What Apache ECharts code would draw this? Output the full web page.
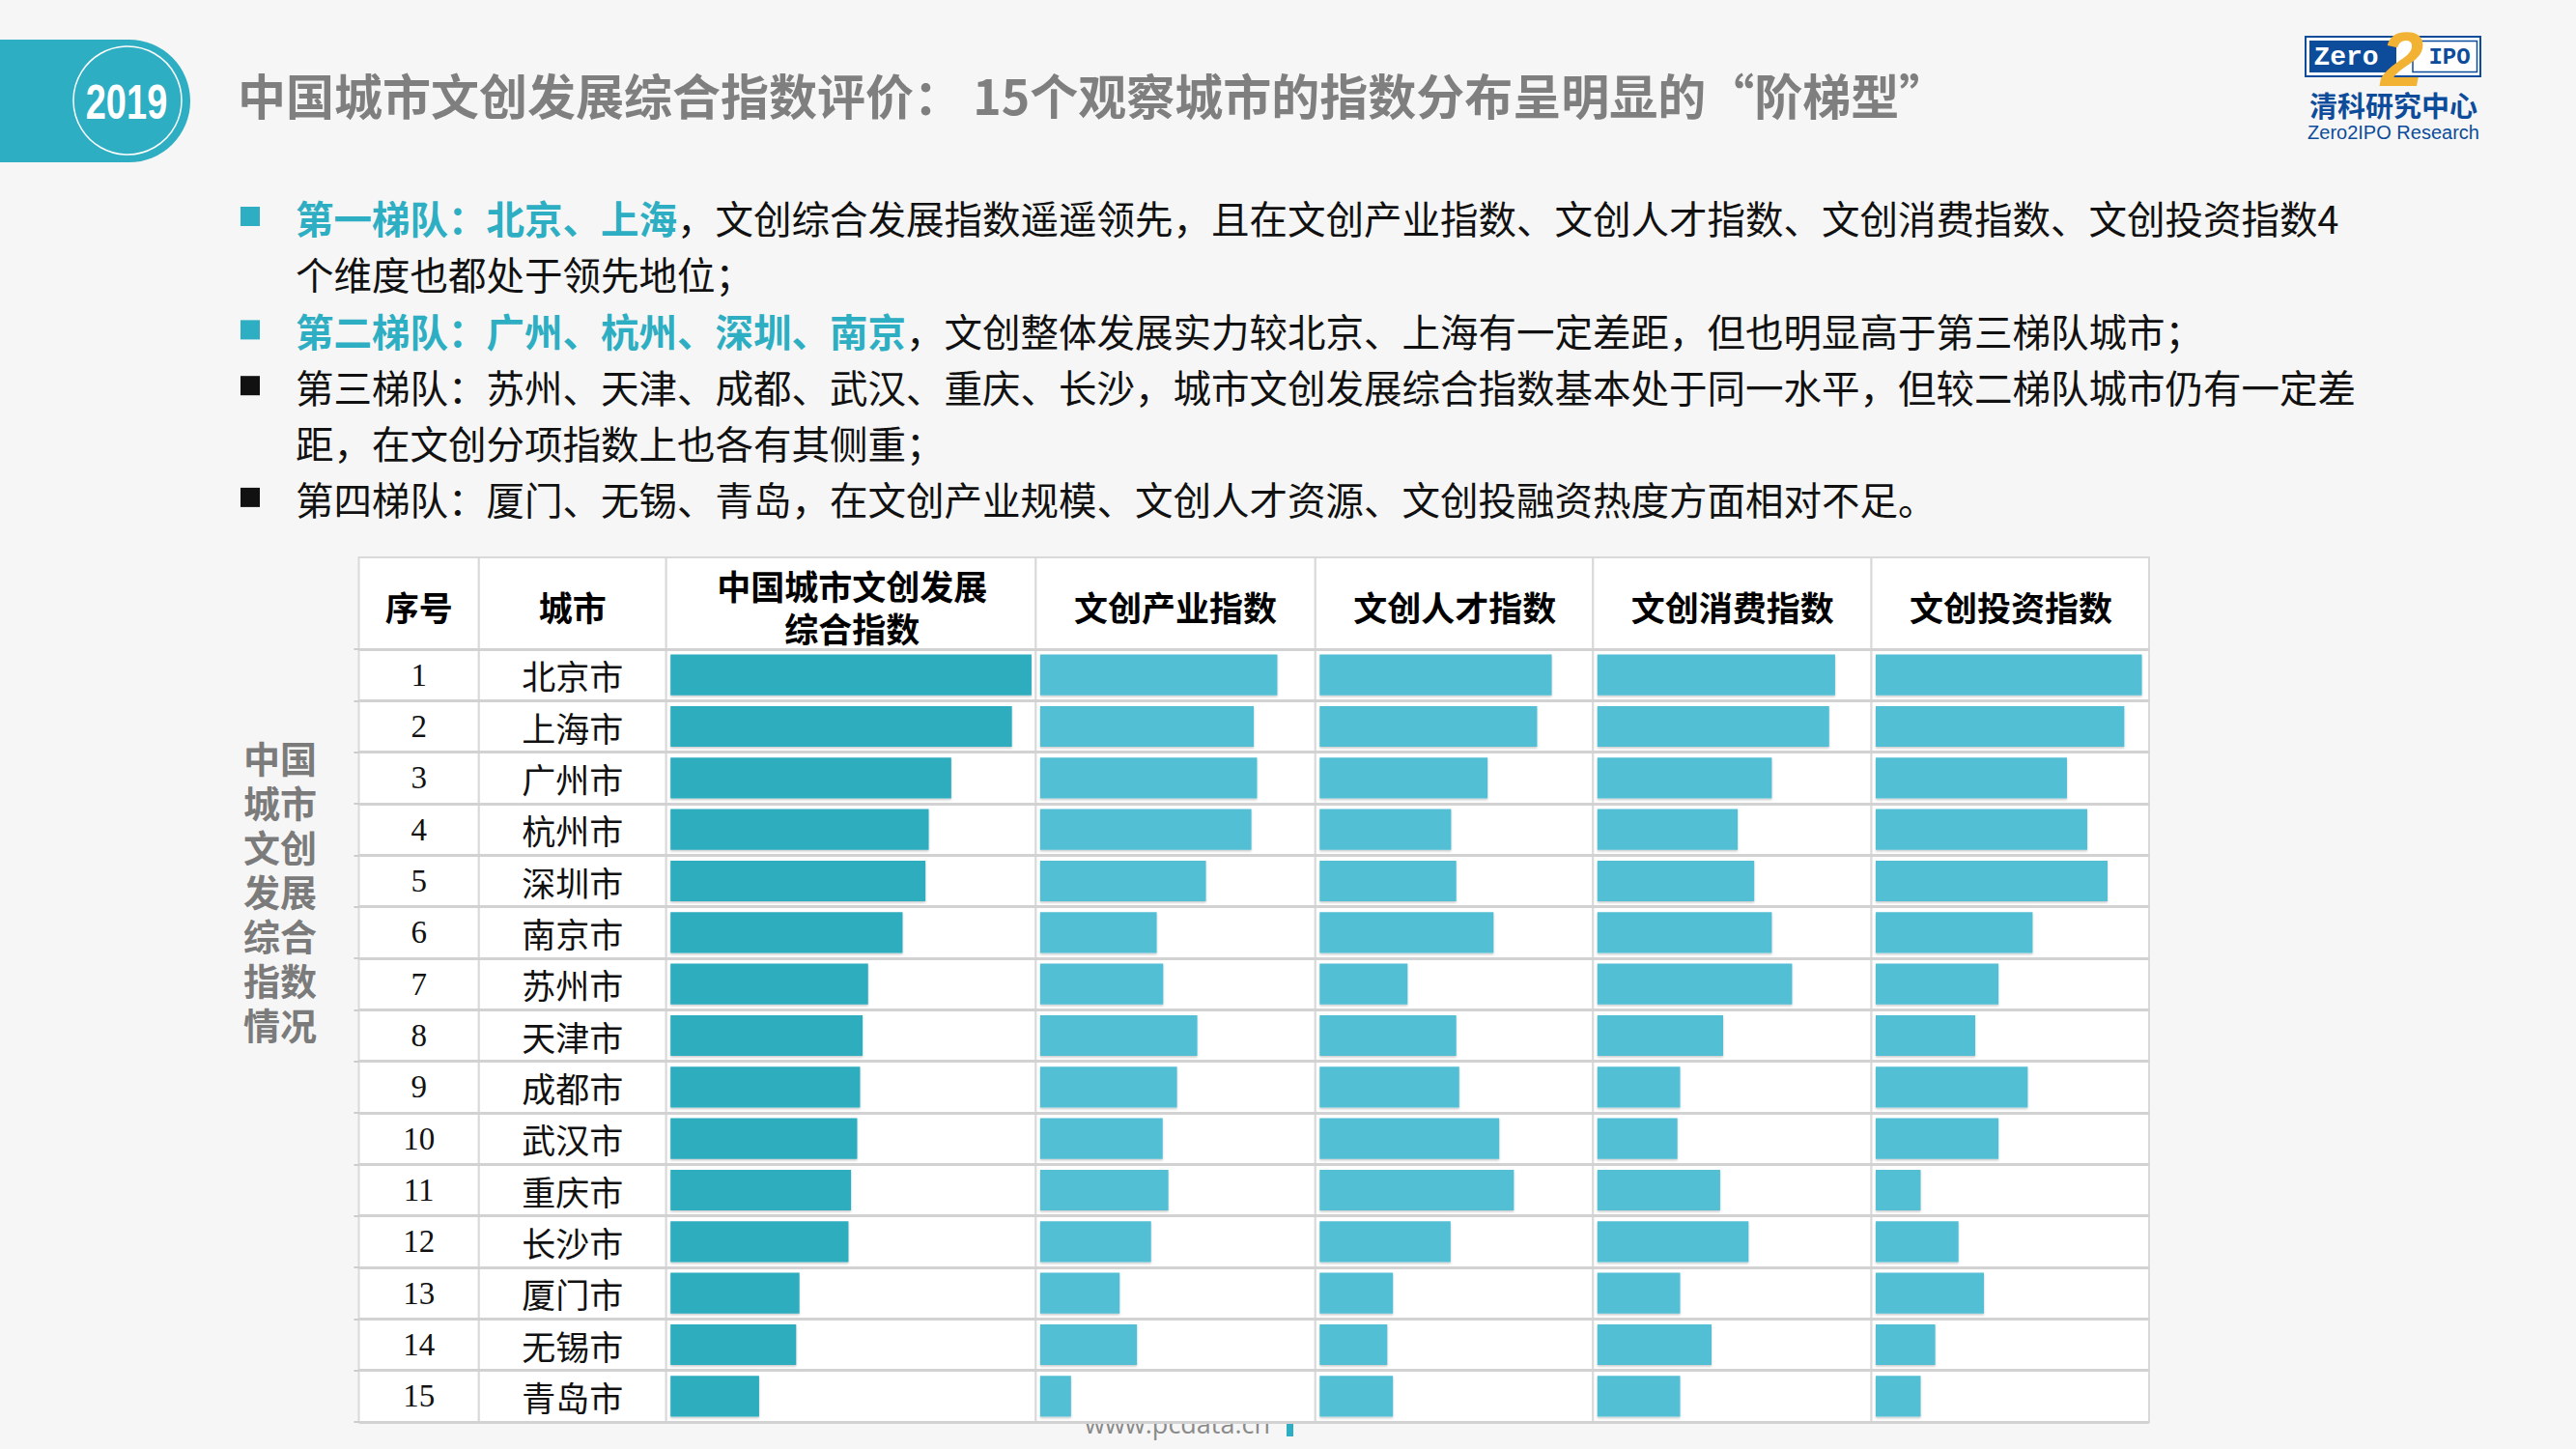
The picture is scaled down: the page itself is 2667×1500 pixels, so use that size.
<!DOCTYPE html>
<html>
<head>
<meta charset="utf-8">
<script src="https://cdn.jsdelivr.net/npm/echarts@6/dist/echarts.min.js"></script>
<style>
html,body{margin:0;padding:0;background:#f6f6f6;}
#chart{width:2667px;height:1500px;}
</style>
</head>
<body>
<div id="chart"></div>
<script>
// ---------------- DATA ----------------
const ranks = ['1','2','3','4','5','6','7','8','9','10','11','12','13','14','15'];
const cities = ['北京市','上海市','广州市','杭州市','深圳市','南京市','苏州市','天津市','成都市','武汉市','重庆市','长沙市','厦门市','无锡市','青岛市'];
const headerLabels = ['序号','城市','中国城市文创发展\n综合指数','文创产业指数','文创人才指数','文创消费指数','文创投资指数'];
// Estimated index values (relative scale 0-100)
const compositeIndex   = [99.4, 94.0, 77.3, 71.1, 70.2, 63.9, 54.4, 52.9, 52.2, 51.4, 49.7, 49.0, 35.5, 34.6, 24.4];
const industryIndex    = [87.7, 79.0, 80.2, 78.1, 61.3, 43.1, 45.5, 58.1, 50.6, 45.3, 47.4, 41.0, 29.4, 35.8, 11.4];
const talentIndex      = [85.8, 80.4, 62.1, 48.6, 50.5, 64.3, 32.5, 50.5, 51.6, 66.4, 71.8, 48.4, 27.1, 25.0, 27.1];
const consumptionIndex = [87.9, 85.7, 64.5, 51.9, 58.0, 64.5, 72.0, 46.5, 30.6, 29.6, 45.4, 55.9, 30.6, 42.2, 30.6];
const investmentIndex  = [98.4, 91.9, 70.7, 78.2, 85.7, 58.0, 45.4, 36.8, 56.2, 45.4, 16.6, 30.6, 40.0, 22.0, 16.6];

const titleText = '中国城市文创发展综合指数评价： 15个观察城市的指数分布呈明显的“阶梯型”';
const sideLabelLines = ['中国', '城市', '文创', '发展', '综合', '指数', '情况'];
const bulletLines = [
  { bullet: 'teal', parts: [['h', '第一梯队：北京、上海'], ['t', '，文创综合发展指数遥遥领先，且在文创产业指数、文创人才指数、文创消费指数、文创投资指数4']] },
  { bullet: null,   parts: [['t', '个维度也都处于领先地位；']] },
  { bullet: 'teal', parts: [['h', '第二梯队：广州、杭州、深圳、南京'], ['t', '，文创整体发展实力较北京、上海有一定差距，但也明显高于第三梯队城市；']] },
  { bullet: 'dark', parts: [['t', '第三梯队：苏州、天津、成都、武汉、重庆、长沙，城市文创发展综合指数基本处于同一水平，但较二梯队城市仍有一定差']] },
  { bullet: null,   parts: [['t', '距，在文创分项指数上也各有其侧重；']] },
  { bullet: 'dark', parts: [['t', '第四梯队：厦门、无锡、青岛，在文创产业规模、文创人才资源、文创投融资热度方面相对不足。']] }
];

// ---------------- LAYOUT / STYLE ----------------
const CJK = '"Noto Sans CJK SC", "Noto Sans", sans-serif';
const TEAL = '#2eaec2';
const COL = [371.5, 495.8, 689.7, 1072.4, 1361.8, 1649.3, 1937.5, 2225];
const TABLE_TOP = 577, BODY_TOP = 672, BODY_H = 800;
const BAR_COLORS = ['#2fadbf', '#52bfd5', '#52bfd5', '#52bfd5', '#52bfd5'];

const grids = [];
const xAxes = [];
const yAxes = [];

// frame grids (white cells with vertical rules) : 0..6
for (let i = 0; i < 7; i++) {
  grids.push({
    left: COL[i], top: TABLE_TOP, width: COL[i + 1] - COL[i], height: BODY_TOP + BODY_H - TABLE_TOP,
    show: true, backgroundColor: '#ffffff', borderColor: '#d9d9d9', borderWidth: 2, z: 2,
    outerBoundsMode: 'none', containLabel: false
  });
}
// master grid for horizontal rules : 7
grids.push({ left: COL[0], top: BODY_TOP, width: COL[7] - COL[0], height: BODY_H, outerBoundsMode: 'none', containLabel: false });
// seq grid : 8 , city grid : 9
grids.push({ left: COL[0], top: BODY_TOP, width: COL[1] - COL[0], height: BODY_H, outerBoundsMode: 'none', containLabel: false });
grids.push({ left: COL[1], top: BODY_TOP, width: COL[2] - COL[1], height: BODY_H, outerBoundsMode: 'none', containLabel: false });
// bar grids : 10..14
grids.push({ left: COL[2] + 4.5, top: BODY_TOP, width: 376, height: BODY_H, outerBoundsMode: 'none', containLabel: false });
for (let j = 3; j < 7; j++) {
  grids.push({ left: COL[j] + 4.5, top: BODY_TOP, width: 280, height: BODY_H, outerBoundsMode: 'none', containLabel: false });
}

const headerNameStyle = {
  fontFamily: CJK, fontWeight: 'bold', fontSize: 35, color: '#000', lineHeight: 44,
  align: 'center', verticalAlign: 'middle'
};
function headerAxis(gridIndex, name, extra) {
  return Object.assign({
    type: 'value', gridIndex: gridIndex, position: 'top', show: true,
    axisLine: { show: false }, axisTick: { show: false }, axisLabel: { show: false }, splitLine: { show: false },
    name: name, nameLocation: 'middle', nameGap: 45, nameTextStyle: headerNameStyle, z: 5
  }, extra || {});
}

// master axes (index 0)
xAxes.push({ type: 'value', gridIndex: 7, show: false });
yAxes.push({
  type: 'category', gridIndex: 7, data: cities, inverse: true, z: 4,
  axisLine: { show: false },
  axisTick: { show: true, length: 5, interval: 0, lineStyle: { color: '#cccccc', width: 2 } },
  axisLabel: { show: false },
  splitLine: { show: true, interval: 0, lineStyle: { color: '#d2d2d2', width: 3 } }
});
// seq axes (index 1)
xAxes.push(headerAxis(8, headerLabels[0]));
yAxes.push({
  type: 'category', gridIndex: 8, data: ranks, inverse: true, z: 5,
  axisLine: { show: false }, axisTick: { show: false }, splitLine: { show: false },
  axisLabel: {
    show: true, inside: true, margin: 0, interval: 0,
    formatter: v => '{n|' + v + '}',
    rich: { n: { width: COL[1] - COL[0], align: 'center', fontFamily: '"Liberation Serif", "DejaVu Serif", serif', fontSize: 33, color: '#111' } }
  }
});
// city axes (index 2)
xAxes.push(headerAxis(9, headerLabels[1]));
yAxes.push({
  type: 'category', gridIndex: 9, data: cities, inverse: true, z: 5,
  axisLine: { show: false }, axisTick: { show: false }, splitLine: { show: false },
  axisLabel: {
    show: true, inside: true, margin: 0, interval: 0,
    formatter: v => '{c|' + v + '}',
    rich: { c: { width: COL[2] - COL[1], align: 'center', fontFamily: CJK, fontSize: 35, color: '#111' } }
  }
});
// bar axes (index 3..7)
for (let k = 0; k < 5; k++) {
  xAxes.push(headerAxis(10 + k, headerLabels[2 + k], { min: 0, max: 100 }));
  yAxes.push({ type: 'category', gridIndex: 10 + k, data: cities, inverse: true, show: false });
}

const seriesData = [compositeIndex, industryIndex, talentIndex, consumptionIndex, investmentIndex];
const series = seriesData.map((d, k) => ({
  type: 'bar', xAxisIndex: 3 + k, yAxisIndex: 3 + k, data: d,
  barWidth: '79%', silent: true, z: 6,
  itemStyle: { color: BAR_COLORS[k], shadowColor: 'rgba(0,0,0,0.22)', shadowBlur: 2, shadowOffsetY: 1.5 }
}));

// ---------------- GRAPHIC (decoration & text) ----------------
function txt(o) {
  const s = Object.assign({}, o.style);
  if (s.textAlign) s.align = s.textAlign;
  if (s.textVerticalAlign) s.verticalAlign = s.textVerticalAlign;
  const el = { type: 'text', z: o.z == null ? 10 : o.z, silent: true, style: s };
  ['x', 'y', 'scaleX', 'scaleY'].forEach(k => { if (o[k] != null) el[k] = o[k]; });
  return el;
}
const graphics = [];
// footer source text (partly hidden under the table)
graphics.push(txt({ z: 1, style: { text: 'www.pcdata.cn', x: 1123, y: 1487, fill: '#8a8a8a', fontSize: 27, fontFamily: '"Open Sans", sans-serif', textAlign: 'left', textVerticalAlign: 'bottom' } }));
graphics.push({ type: 'rect', z: 1, silent: true, shape: { x: 1332, y: 1445, width: 7, height: 42 }, style: { fill: TEAL } });

// year badge
graphics.push({ type: 'rect', z: 10, silent: true, shape: { x: -20, y: 41, width: 217, height: 127, r: [0, 63.5, 63.5, 0] }, style: { fill: TEAL } });
graphics.push({ type: 'circle', z: 11, silent: true, shape: { cx: 132, cy: 104, r: 56 }, style: { fill: 'none', stroke: '#ffffff', lineWidth: 1.5 } });
graphics.push(txt({ z: 12, x: 131, y: 106, scaleX: 0.76, style: { text: '2019', x: 0, y: 0, fill: '#ffffff', fontSize: 50, fontWeight: 'bold', fontFamily: '"Liberation Sans", "Roboto", sans-serif', textAlign: 'center', textVerticalAlign: 'middle' } }));

// title
graphics.push(txt({ style: { text: titleText, x: 246, y: 97, fill: '#7f7f7f', fontSize: 50, fontWeight: 'bold', fontFamily: CJK, textAlign: 'left', textVerticalAlign: 'middle' } }));

// logo
const LOGO_BLUE = '#0d4c9a';
graphics.push({ type: 'rect', z: 10, silent: true, shape: { x: 2387, y: 38, width: 181, height: 41 }, style: { fill: '#ffffff', stroke: LOGO_BLUE, lineWidth: 2 } });
graphics.push({ type: 'rect', z: 11, silent: true, shape: { x: 2391, y: 42, width: 90, height: 33 }, style: { fill: LOGO_BLUE } });
graphics.push({ type: 'rect', z: 11, silent: true, shape: { x: 2498, y: 42.5, width: 66.5, height: 32 }, style: { fill: 'none', stroke: LOGO_BLUE, lineWidth: 1.5 } });
graphics.push(txt({ z: 12, style: { text: 'Zero', x: 2429, y: 59, fill: '#ffffff', fontSize: 28, fontWeight: 'bold', lineHeight: 30, fontFamily: '"Liberation Mono", "DejaVu Sans Mono", monospace', textAlign: 'center', textVerticalAlign: 'middle' } }));
graphics.push(txt({ z: 12, style: { text: 'IPO', x: 2536, y: 59, fill: LOGO_BLUE, fontSize: 24, fontWeight: 'bold', lineHeight: 26, fontFamily: '"Liberation Mono", "DejaVu Sans Mono", monospace', textAlign: 'center', textVerticalAlign: 'middle' } }));
graphics.push(txt({ z: 13, style: { text: '2', x: 2487, y: 61, fill: '#f2b233', fontSize: 80, lineHeight: 58, fontWeight: 'bold', fontStyle: 'italic', fontFamily: '"Liberation Sans", sans-serif', textAlign: 'center', textVerticalAlign: 'middle' } }));
graphics.push(txt({ style: { text: '清科研究中心', x: 2478, y: 108, fill: LOGO_BLUE, fontSize: 29, lineHeight: 28, fontWeight: 'bold', fontFamily: CJK, textAlign: 'center', textVerticalAlign: 'middle' } }));
graphics.push(txt({ style: { text: 'Zero2IPO Research', x: 2478, y: 137, fill: LOGO_BLUE, fontSize: 20, lineHeight: 20, fontFamily: '"Liberation Sans", sans-serif', textAlign: 'center', textVerticalAlign: 'middle' } }));

// bullet paragraph
const LINE_Y = [224.5, 282.4, 341.9, 399.7, 457.6, 515.4];
bulletLines.forEach((ln, i) => {
  if (ln.bullet) {
    graphics.push({ type: 'rect', z: 10, silent: true, shape: { x: 249, y: LINE_Y[i] - 10.5, width: 20, height: 20 }, style: { fill: ln.bullet === 'teal' ? TEAL : '#111111' } });
  }
  const text = ln.parts.map(p => '{' + p[0] + '|' + p[1] + '}').join('');
  graphics.push(txt({ style: {
    text: text, x: 306, y: LINE_Y[i], textAlign: 'left', textVerticalAlign: 'middle',
    fill: '#111111', fontSize: 39.5, fontFamily: CJK,
    rich: {
      h: { fill: TEAL, fontSize: 39.5, fontWeight: 'bold', fontFamily: CJK },
      t: { fill: '#111111', fontSize: 39.5, fontWeight: 'normal', fontFamily: CJK }
    }
  } }));
});

// side vertical label (two characters per line)
graphics.push(txt({ style: { text: sideLabelLines.join('\n'), x: 290, y: 921, fill: '#7b7b7b', fontSize: 38, fontWeight: 'bold', fontFamily: CJK, lineHeight: 46, textAlign: 'center', textVerticalAlign: 'middle' } }));

// ---------------- CHART ----------------
const chart = echarts.init(document.getElementById('chart'), null, { renderer: 'svg', width: 2667, height: 1500 });
chart.setOption({
  backgroundColor: '#f6f6f6',
  animation: false,
  grid: grids,
  xAxis: xAxes,
  yAxis: yAxes,
  series: series,
  graphic: { elements: graphics }
});
</script>
</body>
</html>
